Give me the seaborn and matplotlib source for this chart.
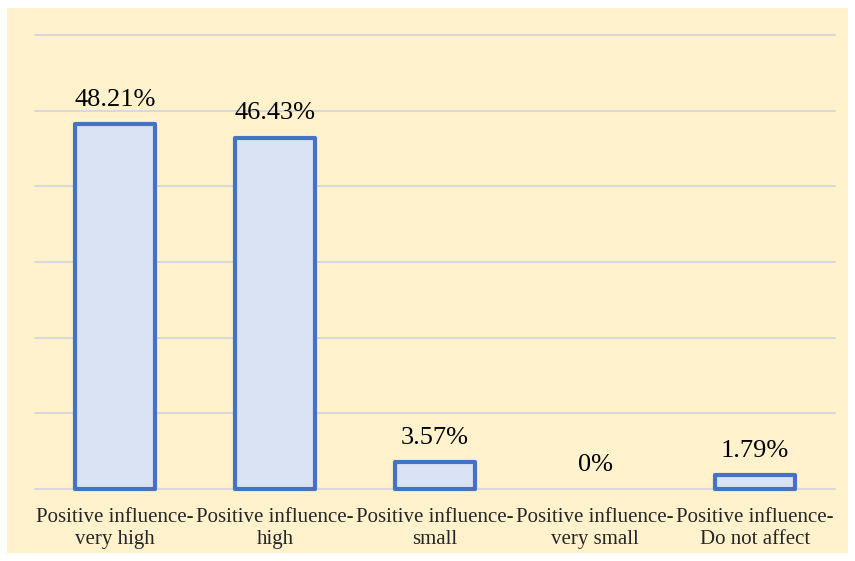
import matplotlib
matplotlib.use("Agg")
import matplotlib.pyplot as plt
import seaborn as sns
import pandas as pd
from matplotlib.patches import Rectangle

categories = ["Positive influence-\nvery high", "Positive influence-\nhigh",
              "Positive influence-\nsmall", "Positive influence-\nvery small",
              "Positive influence-\nDo not affect"]
values = [48.21, 46.43, 3.57, 0.0, 1.79]
value_labels = ["48.21%", "46.43%", "3.57%", "0%", "1.79%"]

sns.set_theme(style="white")
plt.rcParams['font.family'] = ['Liberation Serif', 'DejaVu Serif']

fig = plt.figure(figsize=(8.55, 5.61), dpi=100, facecolor="white")
fig.patches.append(Rectangle((7/855, 8/561), (848-7)/855, (553-8)/561,
                             transform=fig.transFigure, facecolor="#FFF2CC",
                             edgecolor="none", zorder=-10))
ax = fig.add_axes([35/855, 1-489/561, 800/855, (489-35)/561])
ax.set_facecolor("none")

df = pd.DataFrame({"cat": categories, "val": values})
sns.barplot(data=df, x="cat", y="val", color="#DAE3F3", edgecolor="#4472C4",
            linewidth=3, width=0.5, saturation=1, ax=ax, zorder=3)
for p, v in zip(ax.patches, values):
    p.set_clip_on(False)
    p.set_joinstyle("round")
    if v == 0:
        p.set_linewidth(0)

ax.set_ylim(0, 60)
ax.set_xlim(-0.5, 4.5)
ax.set_yticks(range(0, 61, 10))
ax.yaxis.grid(True, color="#D9D9D9", linewidth=1.5, zorder=0)
for gl in ax.yaxis.get_gridlines():
    gl.set_clip_on(False)
ax.set_axisbelow(True)
for s in ax.spines.values():
    s.set_visible(False)
ax.set_yticklabels([])
ax.tick_params(axis="y", length=0)
ax.tick_params(axis="x", length=0, pad=14, labelsize=15)
for t in ax.get_xticklabels():
    t.set_linespacing(1.2)
ax.set_xlabel("")
ax.set_ylabel("")

for i, (v, lab) in enumerate(zip(values, value_labels)):
    ax.annotate(lab, (i, v), xytext=(0, 9.5), textcoords="offset points",
                ha="center", va="bottom", fontsize=19, color="#000000")

fig.savefig("out.png", dpi=100, facecolor=fig.get_facecolor())
